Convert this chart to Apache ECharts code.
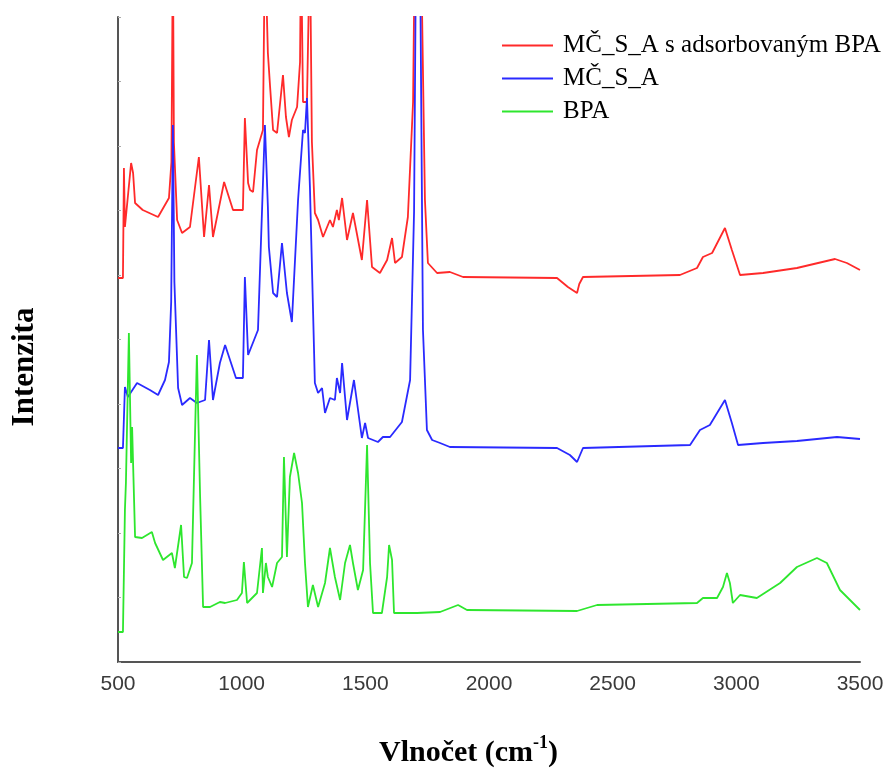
<!DOCTYPE html>
<html>
<head>
<meta charset="utf-8">
<script src="https://cdn.jsdelivr.net/npm/echarts@6/dist/echarts.min.js"></script>
<style>
  html, body { margin: 0; padding: 0; background: #fff; }
  #chart { width: 891px; height: 776px; }
</style>
</head>
<body>
<div id="chart"></div>
<script>
// vlnočet (cm-1) vs. intenzita (relativní jednotky, posunuté křivky)
const xTicks = [500, 1000, 1500, 2000, 2500, 3000, 3500];
const seriesNames = ['MČ_S_A s adsorbovaným BPA', 'MČ_S_A', 'BPA'];

// MČ_S_A s adsorbovaným BPA (červená)
const redSpectrum = [
  [500, 384], [520, 384], [524, 494], [528, 435], [553, 499], [561, 489], [569, 459],
  [600, 452], [662, 445], [706, 464], [716, 500], [722, 720], [726, 520], [739, 442],
  [759, 429], [791, 435], [827, 505], [848, 425], [868, 477], [884, 425], [929, 480],
  [965, 452], [1005, 452], [1013, 544], [1026, 479], [1034, 472], [1046, 470],
  [1062, 512], [1086, 532], [1094, 720], [1106, 609], [1115, 575], [1127, 532],
  [1143, 529], [1167, 587], [1179, 545], [1191, 525], [1203, 542], [1224, 555],
  [1236, 600], [1240, 720], [1248, 560], [1264, 560], [1276, 720], [1284, 520],
  [1296, 449], [1309, 442], [1329, 425], [1357, 442], [1369, 435], [1385, 452],
  [1393, 442], [1406, 464], [1426, 422], [1450, 449], [1486, 402], [1507, 462],
  [1527, 395], [1559, 389], [1588, 402], [1608, 424], [1620, 399], [1648, 405],
  [1672, 445], [1693, 560], [1700, 720], [1725, 720], [1741, 462], [1753, 399],
  [1790, 389], [1842, 390], [1895, 385], [2275, 384], [2319, 375], [2356, 369],
  [2365, 378], [2380, 385], [2772, 387], [2841, 394], [2865, 405], [2902, 409],
  [2954, 434], [2982, 412], [3015, 387], [3108, 389], [3245, 394], [3399, 403],
  [3447, 399], [3500, 392]
];

// MČ_S_A (modrá)
const blueSpectrum = [
  [500, 214], [520, 214], [528, 275], [540, 265], [553, 270], [577, 279], [629, 272],
  [662, 267], [690, 282], [706, 300], [715, 360], [722, 537], [728, 380], [743, 274],
  [759, 257], [791, 264], [819, 259], [852, 262], [868, 322], [884, 262], [912, 299],
  [933, 317], [977, 284], [1005, 284], [1013, 385], [1026, 307], [1066, 332],
  [1094, 537], [1106, 455], [1110, 415], [1127, 369], [1143, 365], [1163, 419],
  [1183, 369], [1203, 340], [1228, 462], [1248, 532], [1256, 529], [1264, 564],
  [1276, 475], [1296, 279], [1309, 269], [1325, 274], [1337, 249], [1357, 264],
  [1377, 262], [1385, 284], [1398, 269], [1406, 299], [1426, 242], [1454, 282],
  [1486, 224], [1499, 239], [1511, 224], [1551, 220], [1571, 225], [1600, 225],
  [1648, 240], [1681, 282], [1697, 450], [1705, 720], [1721, 720], [1733, 332],
  [1749, 232], [1770, 222], [1802, 219], [1842, 215], [2275, 214], [2327, 207],
  [2356, 200], [2380, 214], [2813, 217], [2853, 232], [2893, 237], [2954, 262],
  [2982, 239], [3007, 217], [3108, 219], [3245, 221], [3407, 225], [3500, 223]
];

// BPA (zelená)
const greenSpectrum = [
  [500, 30], [520, 30], [528, 152], [532, 179], [544, 329], [553, 199], [557, 235],
  [569, 125], [597, 124], [637, 130], [650, 119], [682, 102], [718, 109], [730, 94],
  [755, 137], [767, 85], [779, 84], [799, 99], [819, 307], [832, 165], [844, 55],
  [872, 55], [912, 60], [933, 59], [981, 62], [1001, 69], [1009, 100], [1022, 59],
  [1034, 62], [1062, 69], [1082, 114], [1086, 69], [1098, 99], [1106, 85], [1123, 75],
  [1143, 99], [1163, 105], [1171, 205], [1183, 105], [1195, 185], [1212, 209],
  [1228, 189], [1244, 159], [1256, 99], [1268, 55], [1288, 77], [1309, 55], [1337, 79],
  [1357, 114], [1377, 85], [1398, 62], [1418, 99], [1438, 117], [1450, 99], [1470, 72],
  [1491, 92], [1507, 217], [1519, 99], [1531, 49], [1567, 49], [1588, 85], [1596, 117],
  [1608, 102], [1616, 49], [1709, 49], [1802, 50], [1875, 57], [1911, 52], [2356, 51],
  [2437, 57], [2841, 59], [2865, 64], [2922, 64], [2946, 75], [2962, 89], [2974, 79],
  [2986, 59], [3015, 67], [3083, 64], [3177, 79], [3245, 95], [3326, 104], [3366, 99],
  [3419, 72], [3500, 52]
];

const colors = ['#ff2a2a', '#2a2aff', '#2ee62e'];
const spectra = [redSpectrum, blueSpectrum, greenSpectrum];

const chart = echarts.init(document.getElementById('chart'));

const option = {
  animation: false,
  backgroundColor: '#fff',
  grid: { left: 118, right: 31, top: 17, bottom: 114 },
  title: {
    text: '{a|Vlnočet (cm}{s|-1}{a|)}',
    left: 374,
    top: 729,
    textStyle: {
      rich: {
        a: { fontFamily: 'Liberation Serif', fontWeight: 'bold', fontSize: 30, color: '#000', verticalAlign: 'bottom' },
        s: { fontFamily: 'Liberation Serif', fontWeight: 'bold', fontSize: 18, color: '#000', verticalAlign: 'top', padding: [0, 0, 16, 0] }
      }
    }
  },
  legend: {
    data: seriesNames,
    orient: 'vertical',
    left: 497,
    top: 28,
    icon: 'rect',
    itemWidth: 51,
    itemHeight: 2,
    itemGap: 8,
    textStyle: { fontFamily: 'Liberation Serif', fontSize: 25, color: '#000', padding: [0, 0, 0, 5] }
  },
  xAxis: {
    type: 'value',
    min: xTicks[0],
    max: xTicks[xTicks.length - 1],
    interval: 500,
    axisLine: { show: true, lineStyle: { color: '#555', width: 2 } },
    axisTick: { show: false },
    splitLine: { show: false },
    axisLabel: {
      fontFamily: 'Liberation Sans',
      fontSize: 21,
      color: '#3a3a3a',
      margin: 12,
      showMaxLabel: true,
      showMinLabel: true,
      formatter: (v) => String(v)
    }
  },
  yAxis: {
    type: 'value',
    min: 0,
    max: 645,
    interval: 64.5,
    axisLine: { show: true, lineStyle: { color: '#555', width: 2 } },
    axisTick: { show: true, inside: true, length: 3, lineStyle: { color: '#aaa' } },
    axisLabel: { show: false },
    splitLine: { show: false }
  },
  graphic: [{
    type: 'text',
    x: 25,
    y: 367,
    rotation: Math.PI / 2,
    style: {
      text: 'Intenzita',
      x: 0,
      y: 0,
      align: 'center',
      verticalAlign: 'middle',
      font: 'bold 31px "Liberation Serif"',
      fill: '#000'
    }
  }],
  series: seriesNames.map((name, i) => ({
    name: name,
    type: 'line',
    data: spectra[i],
    symbol: 'none',
    clip: true,
    lineStyle: { color: colors[i], width: 1.8 },
    itemStyle: { color: colors[i] }
  }))
};

chart.setOption(option);
</script>
</body>
</html>
